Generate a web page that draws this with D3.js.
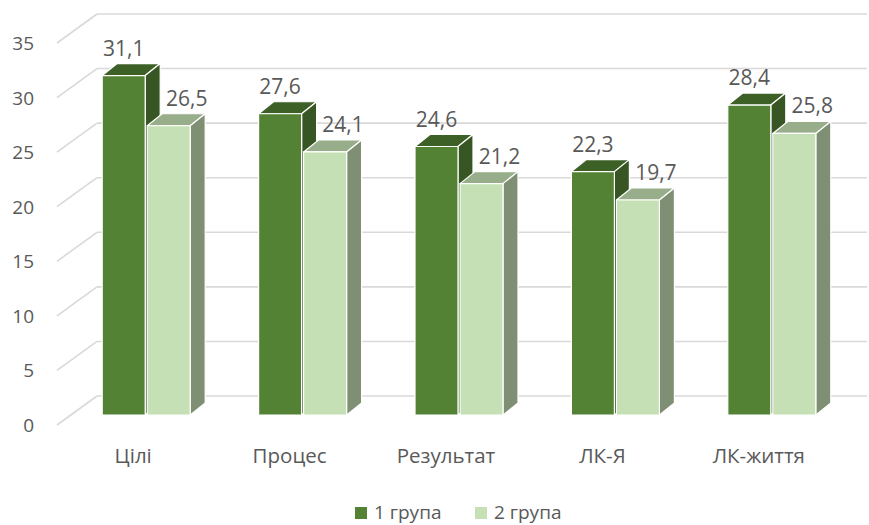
<!DOCTYPE html>
<html>
<head>
<meta charset="utf-8">
<script src="https://cdn.jsdelivr.net/npm/d3@7"></script>
<style>
  body { margin: 0; background: #fff; }
  text { font-family: "Open Sans", sans-serif; fill: #595959; }
</style>
</head>
<body>
<div id="chart"></div>
<script>
// Data
const categories = ["Цілі", "Процес", "Результат", "ЛК-Я", "ЛК-життя"];
const group1 = [31.1, 27.6, 24.6, 22.3, 28.4];
const group2 = [26.5, 24.1, 21.2, 19.7, 25.8];
const seriesNames = ["1 група", "2 група"];
const yTicks = [0, 5, 10, 15, 20, 25, 30, 35];

const width = 869, height = 525;

// colors: front, top, side for each series
const palette = [
  { front: "#548235", top: "#3d6027", side: "#375623" },
  { front: "#c5e0b4", top: "#98ad89", side: "#7f8f74" }
];

const svg = d3.select("#chart")
  .append("svg")
  .attr("width", width)
  .attr("height", height);

// Front-plane scales
const y = d3.scaleLinear().domain([0, 35]).range([425, 43]);
const x = d3.scaleBand().domain(categories).range([55, 837]);

// Depth offsets of the 3D box (wall) and of the bars
const wallDX = 40, wallDY = 29;
const barDX = 13, barDY = 10;      // bar front face depth
const depthDX = 15, depthDY = 12;  // bar thickness
const barW = 43, barGap = 2;

// Gridlines: diagonal on the side wall + horizontal on the back wall
const grid = svg.append("g")
  .attr("stroke", "#d9d9d9")
  .attr("stroke-width", 1.6)
  .attr("fill", "none");

yTicks.forEach(t => {
  grid.append("line")
    .attr("x1", 57).attr("y1", y(t))
    .attr("x2", 57 + wallDX).attr("y2", y(t) - wallDY);
  grid.append("line")
    .attr("x1", 57 + wallDX).attr("y1", y(t) - wallDY)
    .attr("x2", 867).attr("y2", y(t) - wallDY);
});

// Y tick labels
svg.append("g").selectAll("text")
  .data(yTicks)
  .enter()
  .append("text")
  .attr("x", 34)
  .attr("y", d => y(d) + 7)
  .attr("text-anchor", "end")
  .style("font-size", "19px")
  .text(d => d);

// Bars
const series = [group1, group2];
const bars = svg.append("g")
  .attr("stroke", "#fff")
  .attr("stroke-width", 1.2)
  .attr("stroke-linejoin", "round");

categories.forEach((cat, i) => {
  const cx = x(cat) + x.bandwidth() / 2 + barDX;
  series.forEach((vals, s) => {
    const v = vals[i];
    const x0 = cx - barW - barGap / 2 + s * (barW + barGap);
    const x1 = x0 + barW;
    const yb = y(0) - barDY;
    const yt = y(v) - barDY;
    const c = palette[s];

    // top face
    bars.append("path")
      .attr("fill", c.top)
      .attr("d", `M${x0},${yt}L${x0 + depthDX},${yt - depthDY}L${x1 + depthDX},${yt - depthDY}L${x1},${yt}Z`);
    // side face
    bars.append("path")
      .attr("fill", c.side)
      .attr("d", `M${x1},${yt}L${x1 + depthDX},${yt - depthDY}L${x1 + depthDX},${yb - depthDY}L${x1},${yb}Z`);
    // front face
    bars.append("rect")
      .attr("x", x0).attr("y", yt)
      .attr("width", barW).attr("height", yb - yt)
      .attr("fill", c.front);

    // value label
    svg.append("text")
      .attr("x", x0 + barW / 2 + (s === 0 ? 0 : 18))
      .attr("y", yt - depthDY - 8)
      .attr("text-anchor", "middle")
      .style("font-size", "21px")
      .text(d3.format(".1f")(v).replace(".", ","));
  });
});

// Category labels
svg.append("g").selectAll("text")
  .data(categories)
  .enter()
  .append("text")
  .attr("x", d => x(d) + x.bandwidth() / 2)
  .attr("y", 463)
  .attr("text-anchor", "middle")
  .style("font-size", "20.5px")
  .text(d => d);

// Legend
const legend = svg.append("g").attr("transform", "translate(355, 507)");
const legendX = [0, 120];
seriesNames.forEach((name, i) => {
  const row = legend.append("g").attr("transform", `translate(${legendX[i]}, 0)`);
  row.append("rect")
    .attr("width", 12).attr("height", 12)
    .attr("fill", palette[i].front);
  row.append("text")
    .attr("x", 19).attr("y", 12)
    .style("font-size", "19px")
    .text(name);
});
</script>
</body>
</html>
